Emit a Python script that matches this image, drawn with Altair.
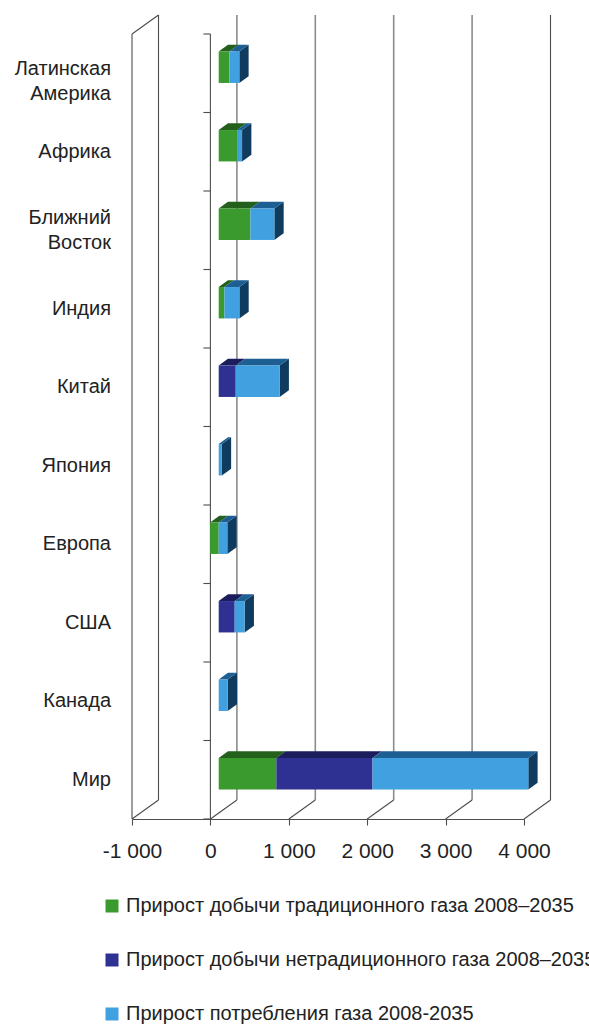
import altair as alt
import pandas as pd

# ---- data -------------------------------------------------------------
categories = ["Латинская\nАмерика", "Африка", "Ближний\nВосток", "Индия", "Китай",
              "Япония", "Европа", "США", "Канада", "Мир"]
series = ["Прирост добычи традиционного газа 2008–2035",
          "Прирост добычи нетрадиционного газа 2008–2035",
          "Прирост потребления газа 2008-2035"]
conventional = [136, 234, 404, 73, 0, 0, -110, 0, 0, 735]
unconventional = [0, 0, 0, 0, 217, 0, 0, 204, 0, 1227]
consumption = [127, 64, 306, 191, 560, 40, 110, 127, 115, 1987]
x_ticks = [-1000, 0, 1000, 2000, 3000, 4000]

# ---- styling ----------------------------------------------------------
front_colors = ["#3b9a2d", "#2e3192", "#41a0e0"]
top_colors = ["#23601b", "#1b1d5c", "#1d5f93"]
side_colors = ["#1c4d16", "#15174a", "#0f3b5e"]
FONT = "Liberation Sans"
TEXT = "#222222"
LINE_H = 25

W, H = 392, 785
X_MIN, X_MAX = x_ticks[0], x_ticks[-1]
N = len(categories)
ux = (X_MAX - X_MIN) / W      # value units per pixel
uy = N / H                    # category units per pixel

# oblique 3-D projection (pixels)
WALL_DX, WALL_DY = 26.5, -19.0    # front plane -> back wall
SHIFT_DX, SHIFT_DY = 8.3, -6.0    # front plane -> bar front face
BAR_DX, BAR_DY = 9.3, -6.7        # bar depth
BAR_HALF = 0.2                    # half bar thickness (bands)

bx, by = WALL_DX * ux, WALL_DY * uy
sx, sy = SHIFT_DX * ux, SHIFT_DY * uy
dx, dy = BAR_DX * ux, BAR_DY * uy

# ---- stacked segments -------------------------------------------------
fronts, tops, sides = [], [], []
for i, cat in enumerate(categories):
    pos = neg = 0.0
    last = None
    for s, v in zip(series, (conventional[i], unconventional[i], consumption[i])):
        if v == 0:
            continue
        if v > 0:
            x0, x1 = pos, pos + v
            pos += v
        else:
            x0, x1 = neg + v, neg
            neg += v
        top, bot = i + 0.5 - BAR_HALF + sy, i + 0.5 + BAR_HALF + sy
        seg = f"{i}-{s}"
        fronts.append(dict(series=s, x0=x0 + sx, x1=x1 + sx, top=top, bot=bot))
        for t in (0, 1):
            tops.append(dict(series=s, seg=seg, y=top + t * dy,
                             xa=x0 + sx + t * dx, xb=x1 + sx + t * dx))
        if last is None or x1 >= last[1]:
            last = (s, x1, top, bot, seg)
    s, x1, top, bot, seg = last
    for t in (0, 1):
        sides.append(dict(series=s, seg=seg, x=x1 + sx + t * dx,
                          ya=top + t * dy, yb=bot + t * dy))

front_df, top_df, side_df = pd.DataFrame(fronts), pd.DataFrame(tops), pd.DataFrame(sides)

# ---- walls, floor and axis lines --------------------------------------
lines = []
for v in x_ticks:
    kind = "edge" if v in (X_MIN, X_MAX) else "grid"
    lines.append(dict(kind=kind, x=v + bx, x2=v + bx, y=by, y2=N + by))
    lines.append(dict(kind="edge", x=v, x2=v + bx, y=N, y2=N + by))
lines.append(dict(kind="edge", x=X_MIN, x2=X_MIN, y=0, y2=N))
lines.append(dict(kind="edge", x=X_MIN, x2=X_MIN + bx, y=0, y2=by))
lines.append(dict(kind="edge", x=0, x2=0, y=0, y2=N))
for k in range(N + 1):
    lines.append(dict(kind="edge", x=0, x2=-7 * ux, y=k, y2=k))
lines_df = pd.DataFrame(lines)

# category labels: multi-line labels are centred on their band,
# the first one sits a little lower
label_y = []
for i, c in enumerate(categories):
    n_lines = c.count("\n") + 1
    shift_px = -(n_lines - 1) * LINE_H / 2 + (8 if i == 0 else 0)
    label_y.append(i + 0.5 + shift_px * uy)
labels_df = pd.DataFrame({"label": categories, "ly": label_y})

x_scale = alt.Scale(domain=[X_MIN, X_MAX], nice=False, zero=False)
y_scale = alt.Scale(domain=[0, N], nice=False, zero=False, reverse=True)

x_axis = alt.Axis(
    values=x_ticks, grid=False, title=None, labelFlush=False, labelOverlap=False,
    labelExpr="(datum.value < 0 ? '-' : '') + replace(format(abs(datum.value), ','), ',', ' ')",
    domainColor="#4d4d4d", tickColor="#4d4d4d", tickSize=6, domainWidth=1.1, tickWidth=1.1,
    labelFont=FONT, labelFontSize=21, labelColor=TEXT, labelPadding=15,
)

line_layer = alt.Chart(lines_df).mark_rule().encode(
    x=alt.X("x:Q", scale=x_scale, axis=x_axis),
    x2="x2:Q",
    y=alt.Y("y:Q", scale=y_scale, axis=None),
    y2="y2:Q",
    color=alt.condition("datum.kind == 'grid'", alt.value("#8c8c8c"), alt.value("#4d4d4d")),
    strokeWidth=alt.condition("datum.kind == 'grid'", alt.value(1.6), alt.value(1.1)),
)

side_layer = alt.Chart(side_df).mark_area(orient="vertical").encode(
    x=alt.X("x:Q", scale=x_scale, axis=x_axis),
    y=alt.Y("ya:Q", scale=y_scale, axis=None, stack=None),
    y2="yb:Q",
    detail="seg:N",
    color=alt.Color("series:N", scale=alt.Scale(domain=series, range=side_colors), legend=None),
)

top_layer = alt.Chart(top_df).mark_area(orient="horizontal").encode(
    y=alt.Y("y:Q", scale=y_scale, axis=None),
    x=alt.X("xa:Q", scale=x_scale, axis=x_axis, stack=None),
    x2="xb:Q",
    detail="seg:N",
    color=alt.Color("series:N", scale=alt.Scale(domain=series, range=top_colors), legend=None),
)

front_layer = alt.Chart(front_df).mark_rect().encode(
    x=alt.X("x0:Q", scale=x_scale, axis=x_axis),
    x2="x1:Q",
    y=alt.Y("top:Q", scale=y_scale, axis=None),
    y2="bot:Q",
    color=alt.Color(
        "series:N", title=None,
        scale=alt.Scale(domain=series, range=front_colors),
        legend=alt.Legend(
            orient="none", legendX=-30, legendY=862, direction="vertical",
            symbolType="square", symbolSize=169, symbolStrokeWidth=0,
            labelFont=FONT, labelFontSize=20, labelColor=TEXT, labelLimit=0,
            labelOffset=4, rowPadding=34, padding=0,
        ),
    ),
)

label_layer = alt.Chart(labels_df).mark_text(
    align="right", baseline="middle", lineBreak="\n", lineHeight=LINE_H,
    font=FONT, fontSize=20, color=TEXT,
).encode(
    x=alt.value(-21),
    y=alt.Y("ly:Q", scale=y_scale, axis=None),
    text="label:N",
)

chart = alt.layer(line_layer, side_layer, top_layer, front_layer, label_layer).resolve_scale(
    color="independent"
).properties(
    width=W, height=H, autosize="none",
    padding={"left": 132, "top": 34, "right": 65, "bottom": 205},
    background="white",
).configure_view(stroke=None)

chart.save("out.html", embed_options={"renderer": "svg", "actions": False})
